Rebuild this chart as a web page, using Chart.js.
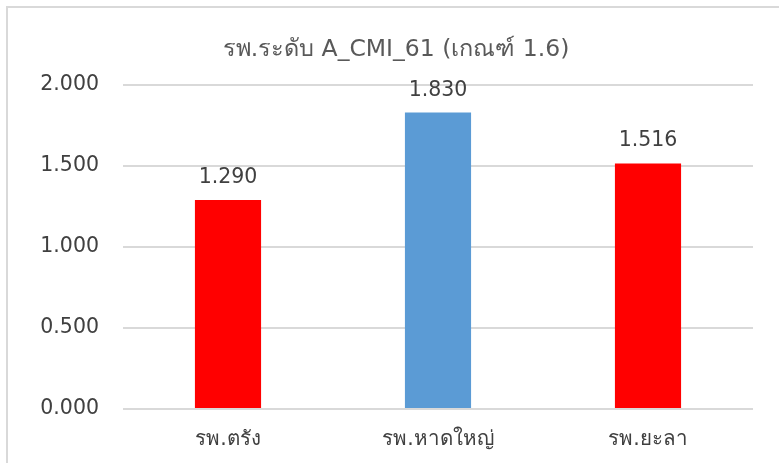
<!DOCTYPE html>
<html>
<head>
<meta charset="utf-8">
<script src="https://cdn.jsdelivr.net/npm/chart.js@4"></script>
<style>
  html, body { margin: 0; padding: 0; background: #fff; overflow: hidden; }
  #wrap { position: relative; width: 779px; height: 463px; }
  #frame { position: absolute; left: 6px; top: 6px; width: 800px; height: 500px;
           border: 2px solid #d9d9d9; box-sizing: border-box; pointer-events: none; }
  canvas { position: absolute; left: 0; top: 0; }
</style>
</head>
<body>
<div id="wrap">
  <canvas id="cmiChart" width="779" height="463"></canvas>
  <div id="frame"></div>
</div>
<script>
const categories = ['รพ.ตรัง', 'รพ.หาดใหญ่', 'รพ.ยะลา'];
const cmiValues = [1.290, 1.830, 1.516];
const barColors = ['#FF0000', '#5B9BD5', '#FF0000'];
const yTicks = [0, 0.5, 1.0, 1.5, 2.0];
const chartTitle = 'รพ.ระดับ A_CMI_61 (เกณฑ์ 1.6)';

const FONT = "'DejaVu Sans', Tahoma, 'Noto Sans', sans-serif";

// value above each bar, Excel style
const valueLabels = {
  id: 'valueLabels',
  afterDatasetsDraw(chart) {
    const c = chart.ctx;
    const meta = chart.getDatasetMeta(0);
    c.save();
    c.font = '20.5px ' + FONT;
    c.fillStyle = '#404040';
    c.textAlign = 'center';
    c.textBaseline = 'alphabetic';
    meta.data.forEach((bar, i) => {
      c.fillText(cmiValues[i].toFixed(3), bar.x, bar.y - 17);
    });
    c.restore();
  }
};

// title is centred on the whole chart frame, not on the plot box
const frameTitle = {
  id: 'frameTitle',
  afterDraw(chart) {
    const c = chart.ctx;
    c.save();
    c.font = '23.5px ' + FONT;
    c.fillStyle = '#595959';
    c.textAlign = 'center';
    c.textBaseline = 'middle';
    c.fillText(chartTitle, 396, 50);
    c.restore();
  }
};

const ctx = document.getElementById('cmiChart').getContext('2d');
new Chart(ctx, {
  type: 'bar',
  data: {
    labels: categories,
    datasets: [{
      data: cmiValues,
      backgroundColor: barColors,
      borderWidth: 0,
      barPercentage: 0.315,
      categoryPercentage: 1
    }]
  },
  options: {
    responsive: false,
    devicePixelRatio: 1,
    animation: false,
    layout: { padding: { left: 0, right: 26, top: 85, bottom: 0 } },
    plugins: {
      legend: { display: false },
      tooltip: { enabled: false },
      title: { display: false }
    },
    scales: {
      x: {
        grid: { display: false, drawTicks: false },
        border: { display: false },
        ticks: {
          color: '#404040',
          font: { family: FONT, size: 20.5 },
          padding: 18,
          maxRotation: 0
        },
        afterFit(scale) { scale.height = 54; }
      },
      y: {
        min: 0,
        max: 2,
        afterBuildTicks(scale) { scale.ticks = yTicks.map(v => ({ value: v })); },
        grid: { color: '#d9d9d9', lineWidth: 2, drawTicks: false },
        border: { display: false },
        ticks: {
          color: '#404040',
          font: { family: FONT, size: 20.5 },
          padding: 24,
          callback: v => Number(v).toFixed(3)
        },
        afterFit(scale) { scale.width = 123; }
      }
    }
  },
  plugins: [valueLabels, frameTitle]
});
</script>
</body>
</html>
